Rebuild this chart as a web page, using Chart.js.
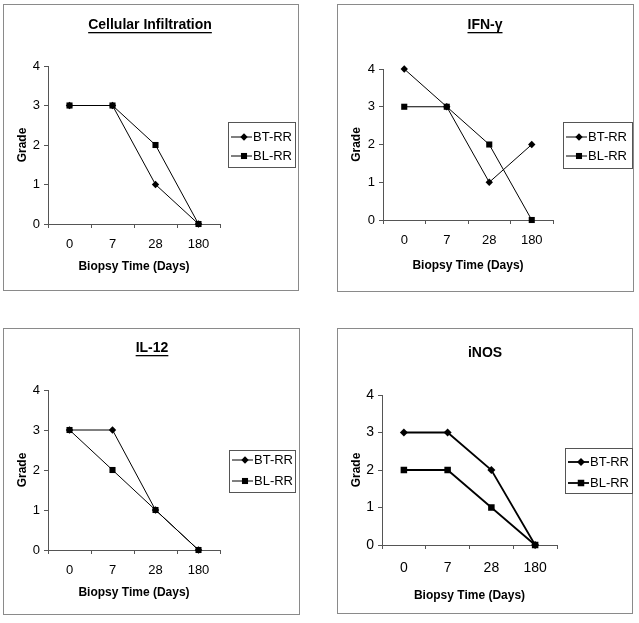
<!DOCTYPE html>
<html>
<head>
<meta charset="utf-8">
<script src="https://cdn.jsdelivr.net/npm/chart.js@4.4.1/dist/chart.umd.min.js"></script>
<style>
  body { margin: 0; background: #fff; width: 639px; height: 623px; position: relative; overflow: hidden; }
  canvas { position: absolute; }
</style>
</head>
<body>
<canvas id="cell" width="296" height="287" style="left:3px;top:4px"></canvas>
<canvas id="ifn" width="297" height="288" style="left:337px;top:4px"></canvas>
<canvas id="il12" width="297" height="287" style="left:3px;top:328px"></canvas>
<canvas id="inos" width="296" height="286" style="left:337px;top:328px"></canvas>
<script>
// data
const days = ['0', '7', '28', '180'];
const gradeTicks = [0, 1, 2, 3, 4];
const seriesNames = ['BT-RR', 'BL-RR'];

const cellBT = [3, 3, 1, 0];
const cellBL = [3, 3, 2, 0];
const ifnBT = [4, 3, 1, 2];
const ifnBL = [3, 3, 2, 0];
const il12BT = [3, 3, 1, 0];
const il12BL = [3, 2, 1, 0];
const inosBT = [3, 3, 2, 0];
const inosBL = [2, 2, 1, 0];

Chart.defaults.font.family = '"Liberation Sans", Arial, sans-serif';
Chart.defaults.color = '#000';

// frame, underlined title and boxed legend (line through marker)
const panelDecor = {
  id: 'panelDecor',
  afterDraw(chart, args, o) {
    const ctx = chart.ctx;
    ctx.save();
    ctx.strokeStyle = '#8a8a8a';
    ctx.lineWidth = 1;
    ctx.strokeRect(0.5, 0.5, chart.width - 1, chart.height - 1);

    ctx.fillStyle = '#000';
    ctx.font = 'bold 14px "Liberation Sans", Arial, sans-serif';
    ctx.textAlign = 'center';
    ctx.textBaseline = 'middle';
    ctx.fillText(o.title, o.titleX, o.titleY);
    if (o.underline) {
      const w = ctx.measureText(o.title).width;
      ctx.fillRect(o.titleX - w / 2, o.titleY + 7, w, 1.3);
    }

    const lg = o.legend;
    ctx.strokeStyle = '#555';
    ctx.strokeRect(lg.x + 0.5, lg.y + 0.5, lg.w, lg.h);
    ctx.font = o.legendFont + 'px "Liberation Sans", Arial, sans-serif';
    ctx.textAlign = 'left';
    chart.data.datasets.forEach((ds, i) => {
      const y = lg.rows[i];
      const mx = lg.x + 16;
      ctx.strokeStyle = ds.borderColor;
      ctx.lineWidth = ds.borderWidth;
      ctx.beginPath();
      ctx.moveTo(lg.x + 3, y);
      ctx.lineTo(lg.x + 24, y);
      ctx.stroke();
      ctx.fillStyle = ds.backgroundColor;
      const r = ds.pointRadius;
      ctx.beginPath();
      if (ds.pointStyle === 'rectRot') {
        ctx.moveTo(mx, y - r); ctx.lineTo(mx + r, y); ctx.lineTo(mx, y + r); ctx.lineTo(mx - r, y);
        ctx.closePath();
      } else {
        const s = r * Math.SQRT1_2;
        ctx.rect(mx - s, y - s, 2 * s, 2 * s);
      }
      ctx.fill();
      ctx.fillStyle = '#000';
      ctx.fillText(ds.label, lg.x + 25, y + 0.5);
    });
    ctx.restore();
  }
};

function makeChart(id, title, bt, bl, p) {
  const xH = p.titleGap + 7.2;
  return new Chart(document.getElementById(id), {
    type: 'line',
    data: {
      labels: days,
      datasets: [
        {
          label: seriesNames[0], data: bt,
          borderColor: '#000', backgroundColor: '#000', borderWidth: p.lw,
          pointStyle: 'rectRot', pointRadius: p.r[0], pointHoverRadius: p.r[0],
          pointBorderWidth: 0, tension: 0, clip: false
        },
        {
          label: seriesNames[1], data: bl,
          borderColor: '#000', backgroundColor: '#000', borderWidth: p.lw,
          pointStyle: 'rect', pointRadius: p.r[1], pointHoverRadius: p.r[1],
          pointBorderWidth: 0, tension: 0, clip: false
        }
      ]
    },
    options: {
      responsive: false,
      animation: false,
      events: [],
      layout: {
        padding: { left: 12, top: p.area.t, right: p.w - p.area.r, bottom: p.h - p.area.b - xH }
      },
      plugins: {
        legend: { display: false },
        title: { display: false },
        tooltip: { enabled: false },
        panelDecor: {
          title: title, titleX: p.titleX, titleY: p.titleY, underline: p.underline,
          legend: p.legend, legendFont: p.legendFont
        }
      },
      scales: {
        x: {
          offset: true,
          grid: { offset: true, drawOnChartArea: false, tickLength: 4, color: '#555' },
          border: { color: '#555' },
          ticks: { padding: p.tickGap - 4 - p.tickFont * 0.6, font: { size: p.tickFont } },
          title: { display: true, text: 'Biopsy Time (Days)', font: { size: 12, weight: 'bold' }, padding: 0 },
          afterFit: s => { s.height = xH; }
        },
        y: {
          min: gradeTicks[0],
          max: gradeTicks[gradeTicks.length - 1],
          grid: { drawOnChartArea: false, tickLength: 4, color: '#555' },
          border: { color: '#555' },
          ticks: { stepSize: 1, padding: 4, font: { size: p.tickFont } },
          title: { display: true, text: 'Grade', font: { size: 12, weight: 'bold' }, padding: 0 },
          afterFit: s => { s.width = p.area.l - 12; }
        }
      }
    },
    plugins: [panelDecor]
  });
}

makeChart('cell', 'Cellular Infiltration', cellBT, cellBL, {
  w: 296, h: 287, area: { l: 45, r: 217, t: 62, b: 220 }, tickGap: 20, titleGap: 43,
  titleX: 147, titleY: 21, underline: true, tickFont: 13,
  legend: { x: 225, y: 118, w: 67, h: 45, rows: [133, 152] }, legendFont: 13,
  lw: 1, r: [3.7, 4.3]
});
makeChart('ifn', 'IFN-γ', ifnBT, ifnBL, {
  w: 297, h: 288, area: { l: 46, r: 216, t: 65, b: 216 }, tickGap: 20, titleGap: 46,
  titleX: 148, titleY: 21, underline: true, tickFont: 13,
  legend: { x: 226, y: 118, w: 69, h: 46, rows: [133, 152] }, legendFont: 13,
  lw: 1, r: [3.7, 4.3]
});
makeChart('il12', 'IL-12', il12BT, il12BL, {
  w: 297, h: 287, area: { l: 45, r: 217, t: 62, b: 222 }, tickGap: 20, titleGap: 43,
  titleX: 149, titleY: 20, underline: true, tickFont: 13,
  legend: { x: 226, y: 122, w: 66, h: 42, rows: [132, 153] }, legendFont: 13,
  lw: 1, r: [3.7, 4.3]
});
makeChart('inos', 'iNOS', inosBT, inosBL, {
  w: 296, h: 286, area: { l: 45, r: 220, t: 67, b: 217 }, tickGap: 23, titleGap: 51,
  titleX: 148, titleY: 25, underline: false, tickFont: 14,
  legend: { x: 228, y: 120, w: 67, h: 45, rows: [134, 155] }, legendFont: 13,
  lw: 1.8, r: [4, 4.6]
});
</script>
</body>
</html>
